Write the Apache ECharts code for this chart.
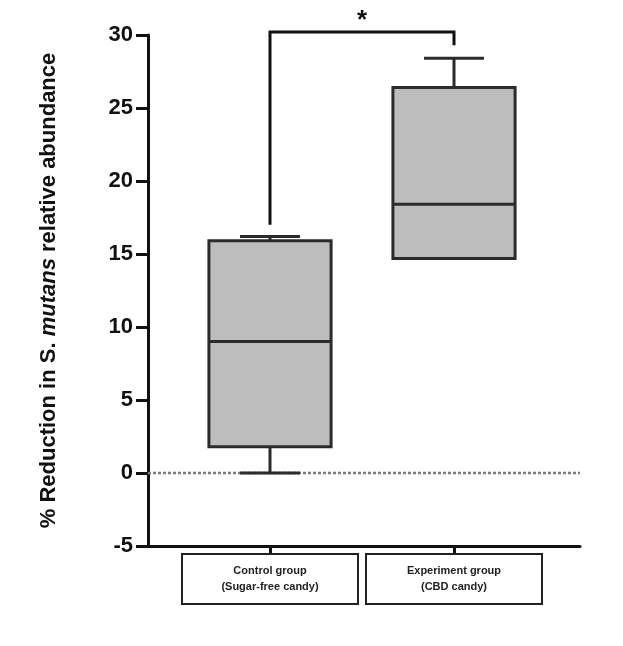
<!DOCTYPE html>
<html>
<head>
<meta charset="utf-8">
<script src="https://cdn.jsdelivr.net/npm/echarts@6/dist/echarts.min.js"></script>
<style>html,body{margin:0;padding:0;background:#fff;}#c{width:623px;height:646px;}</style>
</head>
<body>
<div id="c"></div>
<script>
const categories = ['Control group\n(Sugar-free candy)', 'Experiment group\n(CBD candy)'];
const mins    = [0.0, 14.7];
const q1s     = [1.8, 14.7];
const medians = [9.0, 18.4];
const q3s     = [15.9, 26.4];
const maxs    = [16.2, 28.4];
const yTicks  = [-5, 0, 5, 10, 15, 20, 25, 30];
const bracketLegs = [17.0, 29.3];
const bracketTop = 30.2;
const sigLabel = '*';
const yTitle = ['% Reduction in S. ', 'mutans', ' relative abundance'];

const boxRows = categories.map((c, i) => [i, mins[i], q1s[i], medians[i], q3s[i], maxs[i]]);

const chart = echarts.init(document.getElementById('c'));
const yMin = yTicks[0], yMax = yTicks[yTicks.length - 1], yStep = yTicks[1] - yTicks[0];
const black = '#111';
const lineCol = '#2b2b2b';

chart.setOption({
  animation: false,
  backgroundColor: '#fff',
  grid: [
    { left: 148, right: 43, top: 35, bottom: 100 },
    { left: 178, width: 368, top: 35, bottom: 100 }
  ],
  xAxis: [
    { gridIndex: 0, type: 'value', min: 0, max: 1,
      axisLine: { show: true, onZero: false, lineStyle: { color: black, width: 3 } },
      axisTick: { show: false }, axisLabel: { show: false }, splitLine: { show: false } },
    { gridIndex: 1, type: 'category', data: categories, boundaryGap: true,
      axisLine: { show: false, onZero: false },
      axisTick: { show: true, alignWithLabel: true, length: 8, lineStyle: { color: black, width: 3 } },
      axisLabel: { interval: 0, margin: 8, fontFamily: 'Liberation Sans', fontWeight: 'bold', fontSize: 11,
        color: '#222', lineHeight: 16, align: 'center', width: 170, height: 32,
        padding: [9, 3, 9, 3], borderColor: '#222', borderWidth: 2 },
      splitLine: { show: false } }
  ],
  yAxis: [
    { gridIndex: 0, type: 'value', min: yMin, max: yMax, interval: yStep,
      name: '{n|' + yTitle[0] + '}{i|' + yTitle[1] + '}{n|' + yTitle[2] + '}',
      nameLocation: 'middle', nameGap: 88,
      nameTextStyle: { fontFamily: 'Liberation Sans', fontWeight: 'bold', fontSize: 22, color: black, rich: {
        n: { fontFamily: 'Liberation Sans', fontWeight: 'bold', fontSize: 22, color: black },
        i: { fontFamily: 'Liberation Sans', fontWeight: 'bold', fontStyle: 'italic', fontSize: 22, color: black }
      } },
      axisLine: { show: true, onZero: false, lineStyle: { color: black, width: 3 } },
      axisTick: { show: true, length: 12, lineStyle: { color: black, width: 3 } },
      axisLabel: { margin: 15, fontFamily: 'Liberation Sans', fontWeight: 'bold', fontSize: 22, color: black },
      splitLine: { show: false } },
    { gridIndex: 1, type: 'value', min: yMin, max: yMax, interval: yStep, show: false, splitLine: { show: false } }
  ],
  series: [
    { type: 'line', xAxisIndex: 0, yAxisIndex: 0, data: [[0, 0], [1, 0]], symbol: 'none', z: 1,
      lineStyle: { color: '#7a7a7a', width: 2.5, type: [3, 2] } },
    { type: 'custom', xAxisIndex: 1, yAxisIndex: 1, data: boxRows, z: 3,
      encode: { x: 0, y: [1, 2, 3, 4, 5] },
      renderItem: function (params, api) {
        const i = api.value(0);
        const band = api.size([1, 0])[0];
        const hw = band * 0.332, cw = band * 0.163;
        const pMin = api.coord([i, api.value(1)]);
        const pQ1 = api.coord([i, api.value(2)]);
        const pMed = api.coord([i, api.value(3)]);
        const pQ3 = api.coord([i, api.value(4)]);
        const pMax = api.coord([i, api.value(5)]);
        const x = pMed[0];
        const ls = { stroke: lineCol, lineWidth: 3 };
        return { type: 'group', children: [
          { type: 'line', shape: { x1: x, y1: pMin[1], x2: x, y2: pQ1[1] }, style: ls },
          { type: 'line', shape: { x1: x, y1: pMax[1], x2: x, y2: pQ3[1] }, style: ls },
          { type: 'line', shape: { x1: x - cw, y1: pMin[1], x2: x + cw, y2: pMin[1] }, style: ls },
          { type: 'line', shape: { x1: x - cw, y1: pMax[1], x2: x + cw, y2: pMax[1] }, style: ls },
          { type: 'rect', shape: { x: x - hw, y: pQ3[1], width: hw * 2, height: pQ1[1] - pQ3[1] },
            style: { fill: '#bdbdbd', stroke: lineCol, lineWidth: 3 } },
          { type: 'line', shape: { x1: x - hw, y1: pMed[1], x2: x + hw, y2: pMed[1] }, style: ls }
        ] };
      } },
    { type: 'custom', xAxisIndex: 1, yAxisIndex: 1, data: [[0, bracketLegs[0], bracketTop, bracketLegs[1]]], z: 4,
      clip: false, encode: { x: 0, y: [1, 2, 3] },
      renderItem: function (params, api) {
        const a = api.coord([0, api.value(1)]);
        const t0 = api.coord([0, api.value(2)]);
        const t1 = api.coord([1, api.value(2)]);
        const b = api.coord([1, api.value(3)]);
        return { type: 'group', children: [
          { type: 'polyline', shape: { points: [a, t0, t1, b] },
            style: { stroke: black, lineWidth: 3, fill: null } },
          { type: 'text', style: { text: sigLabel, x: (t0[0] + t1[0]) / 2, y: t0[1] - 24,
            align: 'center', verticalAlign: 'top', fontFamily: 'Liberation Sans', fontWeight: 'bold',
            fontSize: 26, fill: black } }
        ] };
      } }
  ]
});
</script>
</body>
</html>
